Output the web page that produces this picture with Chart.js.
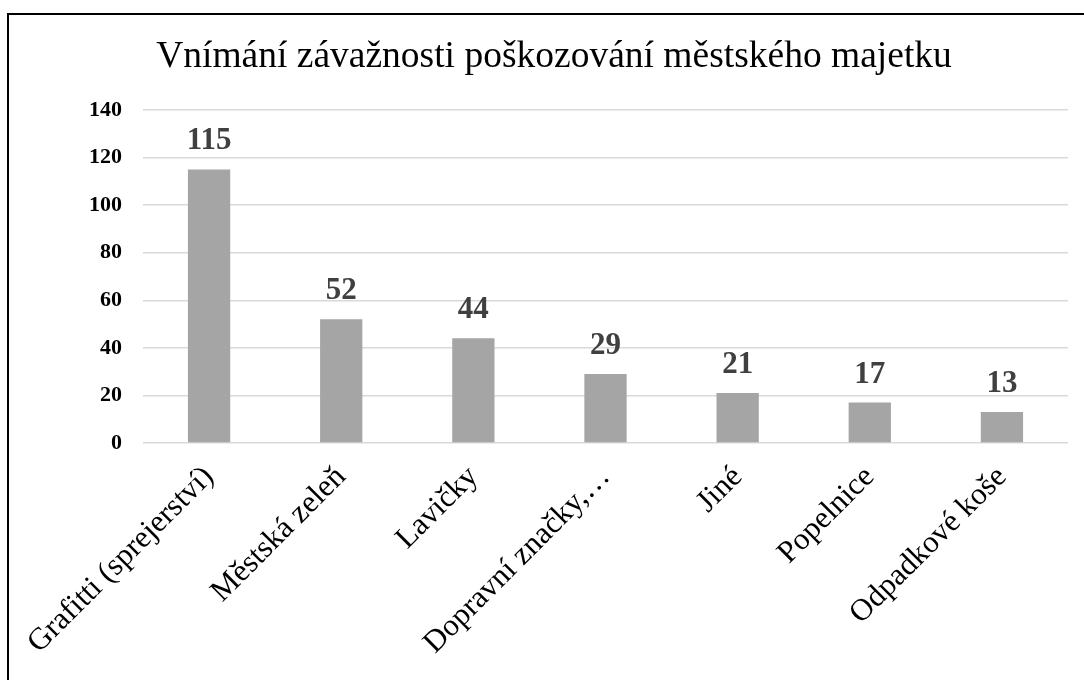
<!DOCTYPE html>
<html>
<head>
<meta charset="utf-8">
<script src="https://cdn.jsdelivr.net/npm/chart.js@4"></script>
<style>
  html, body { margin: 0; padding: 0; background: #fff; overflow: hidden; }
  #frame {
    position: absolute; left: 7px; top: 13px; width: 1100px; height: 700px;
    border-top: 2px solid #000; border-left: 2px solid #000;
  }
  #wrap { position: absolute; left: 0; top: 0; width: 1084px; height: 680px; }
</style>
</head>
<body>
<div id="frame"></div>
<div id="wrap"><canvas id="chart"></canvas></div>
<script>
// Data of the chart
const categories = [
  'Grafitti (sprejerství)',
  'Městská zeleň',
  'Lavičky',
  'Dopravní značky,…',
  'Jiné',
  'Popelnice',
  'Odpadkové koše'
];
const counts = [115, 52, 44, 29, 21, 17, 13];
const chartTitle = 'Vnímání závažnosti poškozování městského majetku';

const serif = '"Liberation Serif", "Times New Roman", serif';

/**
 * Draws the value above each bar
 */
const valueLabels = {
  id: 'valueLabels',
  afterDatasetsDraw(chart) {
    const ctx = chart.ctx;
    const meta = chart.getDatasetMeta(0);
    ctx.save();
    ctx.font = 'bold 31px ' + serif;
    ctx.fillStyle = '#404040';
    ctx.textAlign = 'center';
    ctx.textBaseline = 'alphabetic';
    meta.data.forEach((bar, i) => {
      ctx.fillText(String(counts[i]), bar.x, bar.y - 20);
    });
    ctx.restore();
  }
};

const ctx = document.getElementById('chart').getContext('2d');

new Chart(ctx, {
  type: 'bar',
  data: {
    labels: categories,
    datasets: [{
      data: counts,
      backgroundColor: '#a5a5a5',
      barPercentage: 0.32,
      categoryPercentage: 1
    }]
  },
  options: {
    responsive: true,
    maintainAspectRatio: false,
    animation: false,
    layout: { padding: { left: 40, right: 16, top: 0, bottom: 0 } },
    plugins: {
      legend: { display: false },
      tooltip: { enabled: false },
      title: {
        display: true,
        text: chartTitle,
        color: '#000',
        font: { family: serif, size: 37.5, weight: 'normal' },
        padding: { top: 35, bottom: 30 }
      }
    },
    scales: {
      x: {
        grid: { display: false },
        border: { display: false },
        ticks: {
          color: '#000',
          font: { family: serif, size: 31 },
          minRotation: 45,
          maxRotation: 45,
          padding: 8,
          autoSkip: false
        },
        afterFit(scale) {
          scale.height = 237;
        }
      },
      y: {
        min: 0,
        max: 140,
        grid: { color: '#d9d9d9', lineWidth: 1.5, drawTicks: false },
        border: { display: false },
        ticks: {
          stepSize: 20,
          color: '#000',
          font: { family: serif, size: 22, weight: 'bold' },
          padding: 21
        },
        afterFit(scale) {
          scale.width = 103;
        }
      }
    }
  },
  plugins: [valueLabels]
});
</script>
</body>
</html>
